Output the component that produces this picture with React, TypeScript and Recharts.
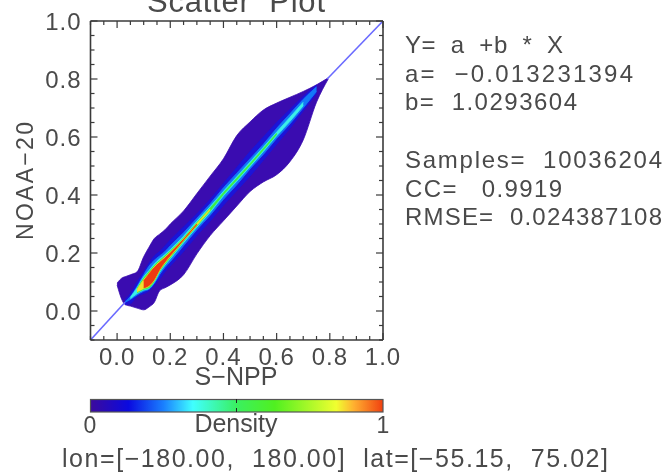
import React from 'react';
import { ComposedChart, Area, XAxis, YAxis, ReferenceLine } from 'recharts';

const xs =       [0.0,  0.02, 0.03, 0.05, 0.075,0.1,  0.12, 0.14, 0.16, 0.18, 0.2,  0.25, 0.3,  0.35, 0.4,  0.45, 0.5,  0.55, 0.6,  0.65, 0.7,  0.75, 0.794];
const outerLo =  [0.09, 0.035,0.022,0.017,0.01, 0.004,0.014,0.03, 0.07, 0.08, 0.09, 0.125,0.197,0.26, 0.311,0.362,0.412,0.445,0.47, 0.515,0.59, 0.72, 0.8];
const outerHi =  [0.096,0.115,0.118,0.125,0.135,0.187,0.22, 0.25, 0.265,0.28, 0.30, 0.345,0.405,0.465,0.525,0.605,0.652,0.693,0.717,0.737,0.757,0.78, 0.804];
const blueLo =   [null, null, 0.022,0.025,0.05, 0.06, 0.07, 0.09, 0.11, 0.135,0.155,0.205,0.26, 0.31, 0.365,0.415,0.465,0.52, 0.575,0.63, 0.69, 0.75, null];
const blueHi =   [null, null, 0.04, 0.06, 0.1,  0.135,0.165,0.19, 0.205,0.225,0.245,0.29, 0.335,0.385,0.44, 0.495,0.55, 0.6,  0.65, 0.695,0.74, 0.78, null];
const lightLo =  [null, null, 0.03, 0.04, 0.055,0.068,0.075,0.095,0.125,0.15, 0.17, 0.225,0.28, 0.33, 0.385,0.435,0.49, 0.54, 0.595,0.645,0.7,  0.757,null];
const lightHi =  [null, null, 0.032,0.05, 0.085,0.125,0.155,0.175,0.19, 0.205,0.225,0.27, 0.32, 0.37, 0.425,0.475,0.525,0.575,0.63, 0.68, 0.73, 0.773,null];
const cyanLo =   [null, null, null, 0.042,0.06, 0.072,0.078,0.1,  0.133,0.158,0.18, 0.235,0.289,0.34, 0.397,0.447,0.498,0.55, 0.604,0.654,0.708,null, null];
const cyanHi =   [null, null, null, 0.047,0.08, 0.118,0.14, 0.162,0.18, 0.195,0.212,0.258,0.31, 0.36, 0.413,0.463,0.514,0.565,0.617,0.668,0.72, null, null];
const greenLo =  [null, null, null, null, 0.063,0.075,0.08, 0.103,0.137,0.162,0.184,0.24, 0.293,0.345,0.402,0.452,0.503,0.555,0.609,null, null, null, null];
const greenHi =  [null, null, null, null, 0.077,0.113,0.135,0.157,0.174,0.19, 0.207,0.252,0.305,0.355,0.408,0.458,0.508,0.56, 0.613,null, null, null, null];
const yellowLo = [null, null, null, null, 0.066,0.078,0.085,0.106,0.14, 0.166,0.188,0.243,0.296,0.348,null, null, null, null, null, null, null, null, null];
const yellowHi = [null, null, null, null, 0.074,0.108,0.13, 0.153,0.17, 0.186,0.203,0.249,0.302,0.352,null, null, null, null, null, null, null, null, null];
const redLo =    [null, null, null, null, null, 0.08, 0.088,0.109,0.143,0.169,0.191,0.245,0.298,null, null, null, null, null, null, null, null, null, null];
const redHi =    [null, null, null, null, null, 0.104,0.128,0.15, 0.167,0.183,0.2,  0.247,0.3,  null, null, null, null, null, null, null, null, null, null];

const xTickValues = [-0.1,-0.05,0,0.05,0.1,0.15,0.2,0.25,0.3,0.35,0.4,0.45,0.5,0.55,0.6,0.65,0.7,0.75,0.8,0.85,0.9,0.95,1.0];
const majorLabels = ['0.0','0.2','0.4','0.6','0.8','1.0'];
const statLines = ['Y=  a  +b  *  X','a=  −0.013231394','b=  1.0293604','Samples=  10036204','CC=   0.9919','RMSE=  0.024387108'];
const footer = 'lon=[−180.00,  180.00]  lat=[−55.15,  75.02]';

const pair = (lo: (number|null)[], hi: (number|null)[], i: number) =>
  lo[i] == null || hi[i] == null ? null : [lo[i], hi[i]];
const rows = xs.map((x, i) => ({
  x,
  outer: pair(outerLo, outerHi, i),
  blue: pair(blueLo, blueHi, i),
  light: pair(lightLo, lightHi, i),
  cyan: pair(cyanLo, cyanHi, i),
  green: pair(greenLo, greenHi, i),
  yellow: pair(yellowLo, yellowHi, i),
  red: pair(redLo, redHi, i),
}));

const INK = '#3a3a3a';
const TEXT = '#4a4a4a';
const FONT = '"Liberation Sans", Arial, sans-serif';
const isMajor = (v: number) => Math.abs(Math.round(v * 100) % 20) === 0;
const label = (v: number) => v.toFixed(1);

const tickBottom = (p: any) => {
  const v = p.payload.value;
  const major = isMajor(v);
  return (
    <g>
      <line x1={p.x} x2={p.x} y1={p.y} y2={p.y - (major ? 7 : 4)} stroke={INK} strokeWidth={1.2} />
      {major && majorLabels.includes(label(v)) && (
        <text x={p.x} y={p.y + 25} textAnchor="middle" fontSize={24} fontFamily={FONT} fill={TEXT} letterSpacing={1}>{label(v)}</text>
      )}
    </g>
  );
};
const tickTop = (p: any) => (
  <line x1={p.x} x2={p.x} y1={p.y} y2={p.y + (isMajor(p.payload.value) ? 7 : 4)} stroke={INK} strokeWidth={1.2} />
);
const tickLeft = (p: any) => {
  const v = p.payload.value;
  const major = isMajor(v);
  return (
    <g>
      <line x1={p.x} x2={p.x + (major ? 7 : 4)} y1={p.y} y2={p.y} stroke={INK} strokeWidth={1.2} />
      {major && majorLabels.includes(label(v)) && (
        <text x={p.x - 9} y={p.y + 9} textAnchor="end" fontSize={24} fontFamily={FONT} fill={TEXT} letterSpacing={1}>{label(v)}</text>
      )}
    </g>
  );
};
const tickRight = (p: any) => (
  <line x1={p.x} x2={p.x - (isMajor(p.payload.value) ? 7 : 4)} y1={p.y} y2={p.y} stroke={INK} strokeWidth={1.2} />
);

const bands: [string, string][] = [
  ['outer', '#3a0cb0'],
  ['blue', '#1c14d8'],
  ['light', '#1478f8'],
  ['cyan', '#3cf0e8'],
  ['green', '#40ee40'],
  ['yellow', '#f0e030'],
  ['red', '#ee3a10'],
];

const axisLine = { stroke: INK, strokeWidth: 1.6 };
const stopColors: [number, string][] = [
  [0, '#3c0a9c'], [0.13, '#0a0ae0'], [0.25, '#1a80ff'], [0.35, '#40ffff'], [0.5, '#3af060'],
  [0.63, '#50f020'], [0.84, '#f0ff30'], [0.9, '#ffb030'], [1, '#f04010'],
];
const common = { fontFamily: FONT, fill: TEXT } as const;

export default function App() {
  return (
    <div style={{ position: 'absolute', left: 0, top: 0, width: 663, height: 475, overflow: 'hidden', background: '#fff', filter: 'blur(0.45px)' }}>
      <ComposedChart width={663} height={475} data={rows} margin={{ left: 40.5, top: 1, right: 230, bottom: 85 }}>
        <XAxis xAxisId={0} dataKey="x" type="number" domain={[-0.1, 1]} ticks={xTickValues} interval={0} height={50} tickSize={0} tickMargin={0} tick={tickBottom} axisLine={axisLine} tickLine={false} allowDataOverflow />
        <XAxis xAxisId="top" orientation="top" dataKey="x" type="number" domain={[-0.1, 1]} ticks={xTickValues} interval={0} height={20} tickSize={0} tickMargin={0} tick={tickTop} axisLine={axisLine} tickLine={false} allowDataOverflow />
        <YAxis yAxisId={0} type="number" domain={[-0.1, 1]} ticks={xTickValues} interval={0} width={50} tickSize={0} tickMargin={0} tick={tickLeft} axisLine={axisLine} tickLine={false} allowDataOverflow />
        <YAxis yAxisId="right" orientation="right" type="number" domain={[-0.1, 1]} ticks={xTickValues} interval={0} width={50} tickSize={0} tickMargin={0} tick={tickRight} axisLine={axisLine} tickLine={false} allowDataOverflow />
        {bands.map(([key, color]) => (
          <Area key={key} dataKey={key} type="monotone" fill={color} fillOpacity={1} stroke={color} strokeWidth={0.8} isAnimationActive={false} dot={false} activeDot={false} />
        ))}
        <ReferenceLine segment={[{ x: -0.1, y: -0.1 }, { x: 0.03, y: 0.03 }]} stroke="#6a6aff" strokeWidth={1.6} ifOverflow="extendDomain" />
        <ReferenceLine segment={[{ x: 0.79, y: 0.8 }, { x: 1, y: 1 }]} stroke="#6a6aff" strokeWidth={1.6} ifOverflow="extendDomain" />
      </ComposedChart>
      <svg width={663} height={475} style={{ position: 'absolute', left: 0, top: 0 }}>
        <defs>
          <linearGradient id="cbar" x1="0" x2="1" y1="0" y2="0">
            {stopColors.map(([o, c]) => <stop key={o} offset={o} stopColor={c} />)}
          </linearGradient>
        </defs>
        <text x={236} y={12} textAnchor="middle" fontSize={31} textLength={178} style={{ whiteSpace: 'pre' }} {...common}>Scatter  Plot</text>
        <text x={236} y={385} textAnchor="middle" fontSize={25} textLength={83} {...common}>S−NPP</text>
        <text transform="translate(33,181) rotate(-90)" textAnchor="middle" fontSize={23} textLength={118} {...common}>NOAA−20</text>
        <rect x={90.5} y={399.5} width={292.5} height={12.5} fill="url(#cbar)" stroke="#555" strokeWidth={1.2} />
        <line x1={236.5} x2={236.5} y1={399} y2={403} stroke="#222" />
        <line x1={236.5} x2={236.5} y1={408} y2={412} stroke="#222" />
        <text x={236} y={432} textAnchor="middle" fontSize={25} textLength={83} {...common}>Density</text>
        <text x={90} y={433} textAnchor="middle" fontSize={23} {...common}>0</text>
        <text x={383} y={433} textAnchor="middle" fontSize={23} {...common}>1</text>
        {statLines.map((s, i) => (
          <text key={s} x={405} y={[53, 82, 110, 168, 197, 225][i]} fontSize={24} style={{ whiteSpace: 'pre' }} textLength={[158, 228, 172, 257, 157, 257][i]} {...common}>{s}</text>
        ))}
        <text x={62} y={467} fontSize={25} style={{ whiteSpace: 'pre' }} textLength={546} {...common}>{footer}</text>
      </svg>
    </div>
  );
}
